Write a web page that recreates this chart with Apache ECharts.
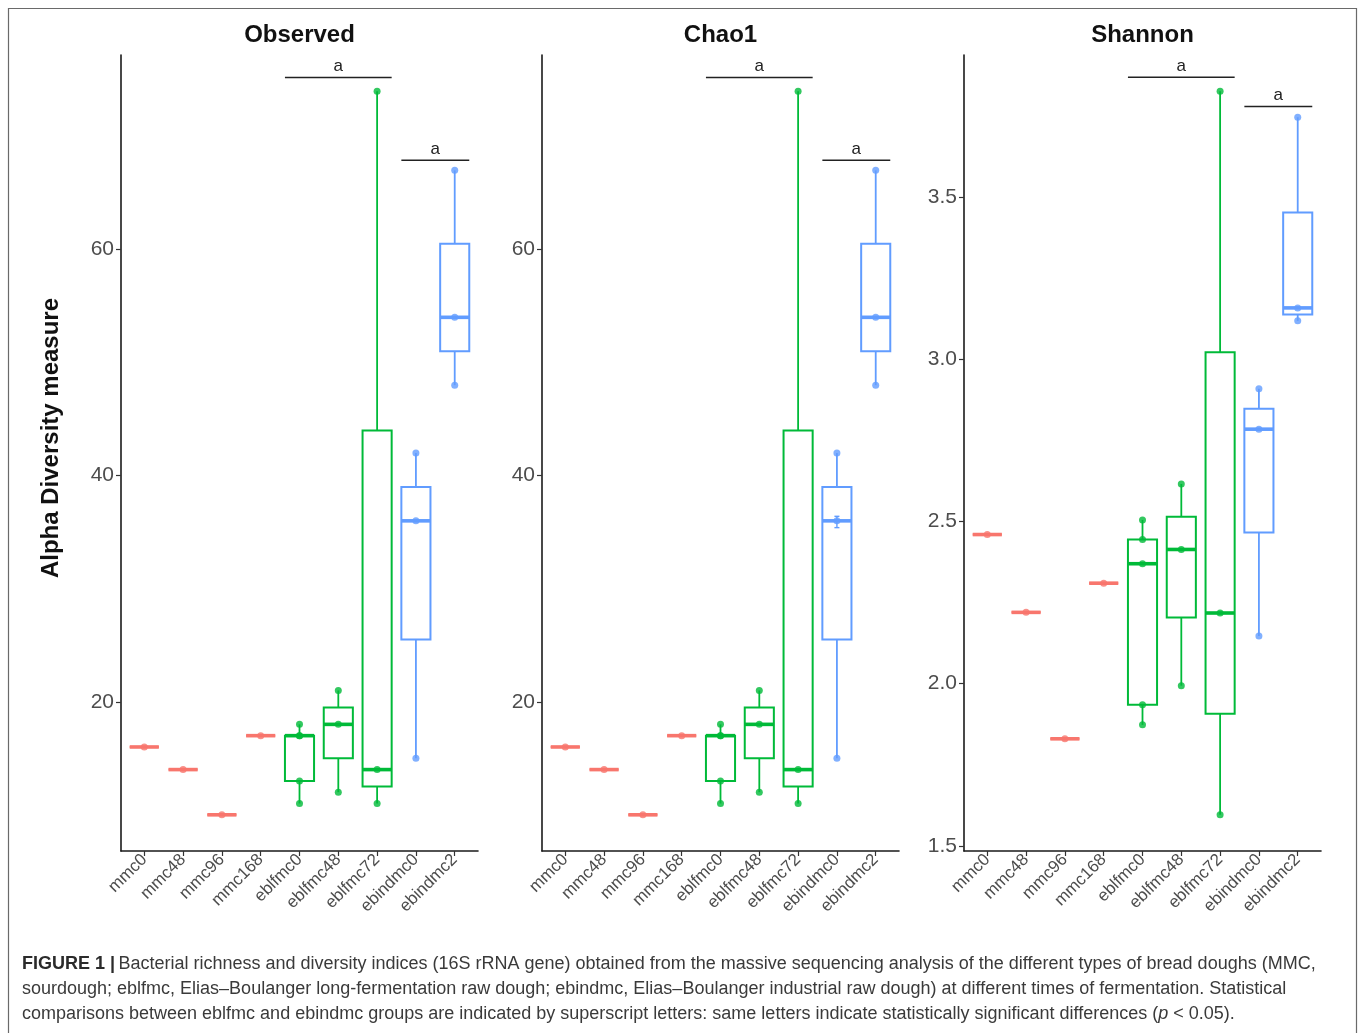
<!DOCTYPE html>
<html>
<head>
<meta charset="utf-8">
<title>Alpha diversity of bread doughs</title>
<script src="https://cdn.jsdelivr.net/npm/echarts@6/dist/echarts.min.js"></script>
<style>
  html, body { margin: 0; padding: 0; background: #ffffff; }
  #chart { width: 1358px; height: 1033px; }
</style>
</head>
<body>
<div id="chart"></div>
<script>
// Samples on the x axis, and the dough type each one belongs to
const categories = ['mmc0', 'mmc48', 'mmc96', 'mmc168', 'eblfmc0', 'eblfmc48', 'eblfmc72', 'ebindmc0', 'ebindmc2'];
const groupOf = ['mmc', 'mmc', 'mmc', 'mmc', 'eblfmc', 'eblfmc', 'eblfmc', 'ebindmc', 'ebindmc'];
const groupColors = { mmc: '#F8766D', eblfmc: '#00BA38', ebindmc: '#619CFF' };

// Box statistics per sample: [lower whisker, Q1, median, Q3, upper whisker]
const observedBoxes = [
  [16, 16, 16, 16, 16],
  [14, 14, 14, 14, 14],
  [10, 10, 10, 10, 10],
  [17, 17, 17, 17, 17],
  [11, 13, 17, 17, 18],
  [12, 15, 18, 19.5, 21],
  [11, 12.5, 14, 44, 74],
  [15, 25.5, 36, 39, 42],
  [48, 51, 54, 60.5, 67]
];
const chao1Boxes = [
  [16, 16, 16, 16, 16],
  [14, 14, 14, 14, 14],
  [10, 10, 10, 10, 10],
  [17, 17, 17, 17, 17],
  [11, 13, 17, 17, 18],
  [12, 15, 18, 19.5, 21],
  [11, 12.5, 14, 44, 74],
  [15, 25.5, 36, 39, 42],
  [48, 51, 54, 60.5, 67]
];
const shannonBoxes = [
  [2.46, 2.46, 2.46, 2.46, 2.46],
  [2.22, 2.22, 2.22, 2.22, 2.22],
  [1.83, 1.83, 1.83, 1.83, 1.83],
  [2.31, 2.31, 2.31, 2.31, 2.31],
  [1.873, 1.935, 2.370, 2.445, 2.505],
  [1.994, 2.204, 2.414, 2.515, 2.616],
  [1.596, 1.907, 2.218, 3.022, 3.827],
  [2.147, 2.466, 2.785, 2.848, 2.910],
  [3.119, 3.139, 3.159, 3.453, 3.747]
];

// Individual replicate values per sample
const observedPoints = [
  [16], [14], [10], [17],
  [11, 13, 17, 17, 18],
  [12, 18, 21],
  [11, 14, 74],
  [15, 36, 42],
  [48, 54, 67]
];
const chao1Points = [
  [16], [14], [10], [17],
  [11, 13, 17, 17, 18],
  [12, 18, 21],
  [11, 14, 74],
  [15, 36, 42],
  [48, 54, 67]
];
const shannonPoints = [
  [2.46], [2.22], [1.83], [2.31],
  [1.873, 1.935, 2.370, 2.445, 2.505],
  [1.994, 2.414, 2.616],
  [1.596, 2.218, 3.827],
  [2.147, 2.785, 2.910],
  [3.119, 3.159, 3.747]
];

// Chao1 standard-error bar: [sample index, low, high]
const chao1ErrorBars = [[7, 35.4, 36.4]];

// Significance brackets: [from sample, to sample, height, letter]
const observedSignif = [[4, 6, 75.2, 'a'], [7, 8, 67.9, 'a']];
const chao1Signif = [[4, 6, 75.2, 'a'], [7, 8, 67.9, 'a']];
const shannonSignif = [[4, 6, 3.870, 'a'], [7, 8, 3.780, 'a']];

// Y axis ranges and ticks per panel
const panelTitles = ['Observed', 'Chao1', 'Shannon'];
const observedTicks = [20, 40, 60];
const chao1Ticks = [20, 40, 60];
const shannonTicks = [1.5, 2.0, 2.5, 3.0, 3.5];

const BOX_WIDTH = 0.75;
const PANEL_LEFTS = [121, 542, 964];
const PANEL_WIDTH = 357;
const PANEL_TOP = 55;
const PANEL_HEIGHT = 796;
const FONT = 'Liberation Sans, Arial, sans-serif';

const panels = [
  { boxes: observedBoxes, points: observedPoints, signif: observedSignif, ticks: observedTicks, min: 6.8, max: 77.2, digits: 0, errs: [] },
  { boxes: chao1Boxes, points: chao1Points, signif: chao1Signif, ticks: chao1Ticks, min: 6.8, max: 77.2, digits: 0, errs: chao1ErrorBars },
  { boxes: shannonBoxes, points: shannonPoints, signif: shannonSignif, ticks: shannonTicks, min: 1.484, max: 3.939, digits: 1, errs: [] }
];

const chart = echarts.init(document.getElementById('chart'), null, { renderer: 'canvas' });

const grids = [], xAxes = [], yAxes = [], series = [];
const catIdx = categories.map((_, i) => i);

panels.forEach((p, k) => {
  grids.push({ left: PANEL_LEFTS[k], top: PANEL_TOP, width: PANEL_WIDTH, height: PANEL_HEIGHT, containLabel: false });
  xAxes.push({
    type: 'value', gridIndex: k, min: -0.6, max: 8.6,
    splitLine: { show: false },
    axisLine: { show: true, onZero: false, lineStyle: { color: '#1a1a1a', width: 1.6 } },
    axisTick: { show: true, customValues: catIdx, length: 5, lineStyle: { color: '#333', width: 1.2 } },
    axisLabel: {
      customValues: catIdx, rotate: 45, margin: 6,
      formatter: v => categories[Math.round(v)],
      color: '#4d4d4d', fontSize: 17, fontFamily: FONT
    }
  });
  yAxes.push({
    type: 'value', gridIndex: k, min: p.min, max: p.max,
    splitLine: { show: false },
    axisLine: { show: true, onZero: false, lineStyle: { color: '#1a1a1a', width: 1.6 } },
    axisTick: { show: true, customValues: p.ticks, length: 5, lineStyle: { color: '#333', width: 1.2 } },
    axisLabel: {
      customValues: p.ticks, margin: 7,
      formatter: v => Number(v).toFixed(p.digits),
      color: '#4d4d4d', fontSize: 21, fontFamily: FONT
    }
  });

  // Boxes, whiskers and medians
  series.push({
    type: 'custom', xAxisIndex: k, yAxisIndex: k, silent: true, z: 2,
    data: p.boxes.map((b, i) => [i].concat(b)),
    encode: { x: 0, y: [1, 2, 3, 4, 5] },
    renderItem: (params, api) => {
      const i = api.value(0);
      const color = groupColors[groupOf[i]];
      const lw = api.coord([i, api.value(1)]);
      const q1 = api.coord([i, api.value(2)]);
      const med = api.coord([i, api.value(3)]);
      const q3 = api.coord([i, api.value(4)]);
      const uw = api.coord([i, api.value(5)]);
      const xl = api.coord([i - BOX_WIDTH / 2, 0])[0];
      const xr = api.coord([i + BOX_WIDTH / 2, 0])[0];
      const line = { stroke: color, lineWidth: 1.8 };
      return {
        type: 'group',
        children: [
          { type: 'line', shape: { x1: uw[0], y1: uw[1], x2: q3[0], y2: q3[1] }, style: line },
          { type: 'line', shape: { x1: q1[0], y1: q1[1], x2: lw[0], y2: lw[1] }, style: line },
          { type: 'rect', shape: { x: xl, y: q3[1], width: xr - xl, height: q1[1] - q3[1] },
            style: { fill: 'rgba(255,255,255,0)', stroke: color, lineWidth: 2 } },
          { type: 'line', shape: { x1: xl, y1: med[1], x2: xr, y2: med[1] },
            style: { stroke: color, lineWidth: 3.6 } }
        ]
      };
    }
  });

  // Replicate points
  const pts = [];
  p.points.forEach((vals, i) => vals.forEach(v => pts.push({ value: [i, v], itemStyle: { color: groupColors[groupOf[i]] } })));
  series.push({
    type: 'scatter', xAxisIndex: k, yAxisIndex: k, silent: true, z: 3,
    symbol: 'circle', symbolSize: 7, data: pts
  });

  // Standard-error bars
  if (p.errs.length) {
    series.push({
      type: 'custom', xAxisIndex: k, yAxisIndex: k, silent: true, z: 4,
      data: p.errs, encode: { x: 0, y: [1, 2] },
      renderItem: (params, api) => {
        const i = api.value(0);
        const color = groupColors[groupOf[i]];
        const lo = api.coord([i, api.value(1)]);
        const hi = api.coord([i, api.value(2)]);
        const st = { stroke: color, lineWidth: 1.4 };
        return {
          type: 'group',
          children: [
            { type: 'line', shape: { x1: lo[0], y1: lo[1], x2: hi[0], y2: hi[1] }, style: st },
            { type: 'line', shape: { x1: lo[0] - 2.5, y1: lo[1], x2: lo[0] + 2.5, y2: lo[1] }, style: st },
            { type: 'line', shape: { x1: hi[0] - 2.5, y1: hi[1], x2: hi[0] + 2.5, y2: hi[1] }, style: st }
          ]
        };
      }
    });
  }

  // Significance brackets with letters
  series.push({
    type: 'custom', xAxisIndex: k, yAxisIndex: k, silent: true, z: 5,
    data: p.signif.map(s => [s[0], s[1], s[2]]),
    encode: { x: [0, 1], y: 2 },
    renderItem: (params, api) => {
      const s = p.signif[params.dataIndex];
      const a = api.coord([api.value(0) - BOX_WIDTH / 2, api.value(2)]);
      const b = api.coord([api.value(1) + BOX_WIDTH / 2, api.value(2)]);
      return {
        type: 'group',
        children: [
          { type: 'line', shape: { x1: a[0], y1: a[1], x2: b[0], y2: b[1] }, style: { stroke: '#222', lineWidth: 1.5 } },
          { type: 'text', x: (a[0] + b[0]) / 2, y: a[1] - 11,
            style: { text: s[3], fill: '#222', fontSize: 17, fontFamily: FONT, align: 'center', verticalAlign: 'middle' } }
        ]
      };
    }
  });
});

const graphics = [
  // Figure frame
  { type: 'rect', shape: { x: 8.5, y: 8.5, width: 1348, height: 1040 }, style: { fill: 'none', stroke: '#6a6a6a', lineWidth: 1.2 }, silent: true },
  // Shared y-axis title
  { type: 'text', x: 51, y: 438, rotation: Math.PI / 2,
    style: { text: 'Alpha Diversity measure', fill: '#111', fontSize: 24, fontWeight: 'bold', fontFamily: FONT, align: 'center', verticalAlign: 'middle' } }
];
panelTitles.forEach((t, k) => {
  graphics.push({ type: 'text', x: PANEL_LEFTS[k] + PANEL_WIDTH / 2, y: 35,
    style: { text: t, fill: '#111', fontSize: 24, fontWeight: 'bold', fontFamily: FONT, align: 'center', verticalAlign: 'middle' } });
});

// Caption below the panels
const captionRich = {
  b: { fontWeight: 'bold', fill: '#2b2b2b', fontSize: 18, fontFamily: FONT },
  t: { fill: '#3a3a3a', fontSize: 18, fontFamily: FONT },
  i: { fill: '#3a3a3a', fontSize: 18, fontStyle: 'italic', fontFamily: FONT }
};
const captionLines = [
  '{b|FIGURE 1 |} {t|Bacterial richness and diversity indices (16S rRNA gene) obtained from the massive sequencing analysis of the different types of bread doughs (MMC,}',
  '{t|sourdough; eblfmc, Elias–Boulanger long-fermentation raw dough; ebindmc, Elias–Boulanger industrial raw dough) at different times of fermentation. Statistical}',
  '{t|comparisons between eblfmc and ebindmc groups are indicated by superscript letters: same letters indicate statistically significant differences (}{i|p}{t| < 0.05).}'
];
captionLines.forEach((txt, j) => {
  graphics.push({ type: 'text', x: 22, y: 964 + j * 25,
    style: { text: txt, rich: captionRich, align: 'left', verticalAlign: 'middle' } });
});

chart.setOption({
  backgroundColor: '#ffffff',
  animation: false,
  grid: grids,
  xAxis: xAxes,
  yAxis: yAxes,
  series: series,
  graphic: graphics
});
</script>
</body>
</html>
